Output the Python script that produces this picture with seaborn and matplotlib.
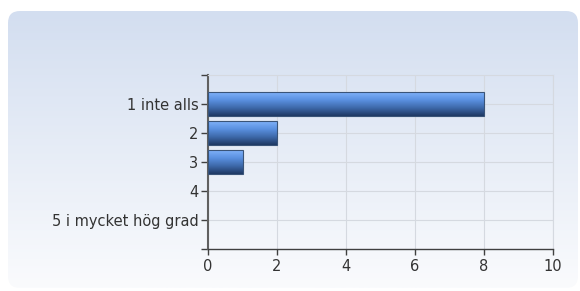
import numpy as np
import pandas as pd
import matplotlib
matplotlib.use("Agg")
import matplotlib.pyplot as plt
import seaborn as sns
from matplotlib.patches import FancyBboxPatch
from matplotlib.colors import LinearSegmentedColormap

# data
categories = ["1 inte alls", "2", "3", "4", "5 i mycket hög grad"]
counts = [8, 2, 1, 0, 0]
xticks = [0, 2, 4, 6, 8, 10]

df = pd.DataFrame({"svar": categories, "antal": counts})

sns.set_theme(style="white")
plt.rcParams["font.family"] = ["DejaVu Sans"]

fig = plt.figure(figsize=(5.8, 2.91), dpi=100)
fig.patch.set_facecolor("white")

# rounded panel with a soft blue gradient
bg = fig.add_axes([0, 0, 1, 1], zorder=-1)
bg.set_axis_off()
bg.set_xlim(0, 580)
bg.set_ylim(291, 0)
grad = np.linspace(0, 1, 256)[:, None]
cmap_bg = LinearSegmentedColormap.from_list("bg", ["#d3def0", "#fafbfd"])
im = bg.imshow(grad, extent=[8, 578, 288, 11], cmap=cmap_bg, aspect="auto")
panel = FancyBboxPatch((8, 11), 570, 277, boxstyle="round,pad=0,rounding_size=12",
                       transform=bg.transData, facecolor="none", edgecolor="none")
bg.add_patch(panel)
im.set_clip_path(panel)

# main axes
ax = fig.add_axes([208 / 580, (291 - 249) / 291, 345 / 580, 174 / 291])
ax.patch.set_alpha(0)
sns.barplot(data=df, x="antal", y="svar", orient="h", ax=ax, width=0.8,
            color="#4a7fd0", edgecolor="#3a5478", linewidth=0.8, zorder=3)

# gradient fill on the bars
cmap_bar = LinearSegmentedColormap.from_list(
    "bar", ["#80b2fa", "#5a90e0", "#3d68a8", "#1e3862"])
for p in ax.patches:
    w = p.get_width()
    if w <= 0:
        p.set_visible(False)
        continue
    y0 = p.get_y()
    h = p.get_height()
    x0 = p.get_x()
    g = ax.imshow(grad, extent=[x0, x0 + w, y0 + h, y0], cmap=cmap_bar,
                  aspect="auto", zorder=3.5, origin="upper")
    g.set_clip_path(p)
    p.set_facecolor("none")
    p.set_zorder(4)

ax.set_xlim(0, 10)
ax.set_ylim(5, -1)
ax.set_xticks(xticks)
ax.set_xlabel("")
ax.set_ylabel("")
ax.set_yticks([-1, 5], minor=True)

ax.grid(True, axis="both", color="#d5d9e0", linewidth=0.8, zorder=0)
ax.set_axisbelow(True)
for s in ["top", "right"]:
    ax.spines[s].set_color("#d5d9e0")
    ax.spines[s].set_linewidth(0.8)
ax.spines["left"].set_color("#606060")
ax.spines["left"].set_linewidth(1.5)
ax.spines["bottom"].set_color("#404040")
ax.spines["bottom"].set_linewidth(1.0)

ax.tick_params(axis="y", which="both", left=True, length=5, width=1,
               color="#404040", labelsize=10.5, labelcolor="#333333", pad=2)
ax.tick_params(axis="x", bottom=True, length=4, width=1, color="#404040",
               labelsize=10.5, labelcolor="#333333", pad=3)

fig.savefig("out.png", dpi=100)
